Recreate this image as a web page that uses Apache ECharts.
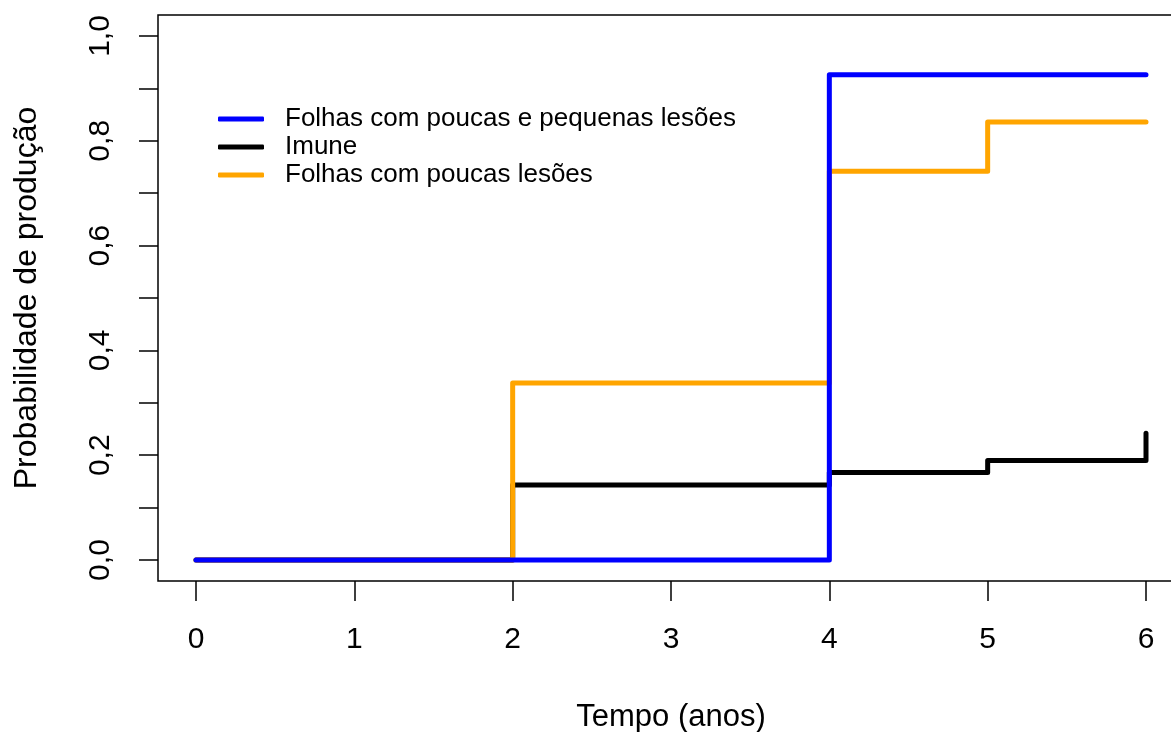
<!DOCTYPE html>
<html>
<head>
<meta charset="utf-8">
<script src="https://cdn.jsdelivr.net/npm/echarts@6/dist/echarts.min.js"></script>
<style>html,body{margin:0;padding:0;background:#fff}#c{width:1171px;height:732px}</style>
</head>
<body>
<div id="c"></div>
<script>
const times = [0, 2, 4, 5, 6];
const blueValues = [0, 0, 0.926, 0.926, 0.926];
const blackValues = [0, 0.143, 0.167, 0.190, 0.242];
const orangeValues = [0, 0.338, 0.742, 0.836, 0.836];
const seriesNames = ['Folhas com poucas e pequenas lesões', 'Imune', 'Folhas com poucas lesões'];
const xTicks = [0, 1, 2, 3, 4, 5, 6];
const yTicks = [0, 0.1, 0.2, 0.3, 0.4, 0.5, 0.6, 0.7, 0.8, 0.9, 1.0];
const yLabels = [0, 0.2, 0.4, 0.6, 0.8, 1.0];

const FONT = '"Liberation Sans", Arial, Helvetica, sans-serif';
const pair = (vals) => times.map((t, i) => [t, vals[i]]);

const chart = echarts.init(document.getElementById('c'));
const lineSeries = (name, vals, color) => ({
  name, type: 'line', step: 'end', data: pair(vals), symbol: 'none', clip: false,
  lineStyle: { color, width: 5, cap: 'round', join: 'round' },
  itemStyle: { color }
});
chart.setOption({
  animation: false,
  backgroundColor: '#fff',
  grid: { left: 158, top: 15, width: 1026, height: 566, outerBoundsMode: 'none', containLabel: false,
    show: true, borderColor: '#000', borderWidth: 1.5, backgroundColor: 'transparent' },
  legend: {
    data: seriesNames, orient: 'vertical', left: 213, top: 100, itemGap: 0,
    itemWidth: 46, itemHeight: 5, icon: 'roundRect',
    textStyle: { fontFamily: FONT, fontSize: 26, color: '#000', lineHeight: 28, padding: [0, 0, 0, 16] }
  },
  xAxis: {
    type: 'value', min: -0.24, max: 6.24,
    name: 'Tempo (anos)', nameLocation: 'middle', nameGap: 121,
    nameTextStyle: { fontFamily: FONT, fontSize: 31, color: '#000' },
    axisLine: { show: false, onZero: false },
    axisTick: { show: true, length: 20, customValues: xTicks, lineStyle: { color: '#000', width: 1.5 } },
    axisLabel: { customValues: xTicks, margin: 44, fontFamily: FONT, fontSize: 30, color: '#000' },
    splitLine: { show: false }
  },
  yAxis: {
    type: 'value', min: -0.04, max: 1.04,
    name: 'Probabilidade de produção', nameLocation: 'middle', nameGap: 115,
    nameTextStyle: { fontFamily: FONT, fontSize: 32, color: '#000' },
    axisLine: { show: false, onZero: false },
    axisTick: { show: true, length: 19, customValues: yTicks, lineStyle: { color: '#000', width: 1.5 } },
    axisLabel: { customValues: yLabels, rotate: 90, margin: 42, fontFamily: FONT, fontSize: 30, color: '#000',
      formatter: v => v.toFixed(1).replace('.', ',') },
    splitLine: { show: false }
  },
  series: [
    lineSeries(seriesNames[1], blackValues, '#000000'),
    lineSeries(seriesNames[2], orangeValues, '#FFA500'),
    lineSeries(seriesNames[0], blueValues, '#0000FF')
  ]
});
</script>
</body>
</html>
